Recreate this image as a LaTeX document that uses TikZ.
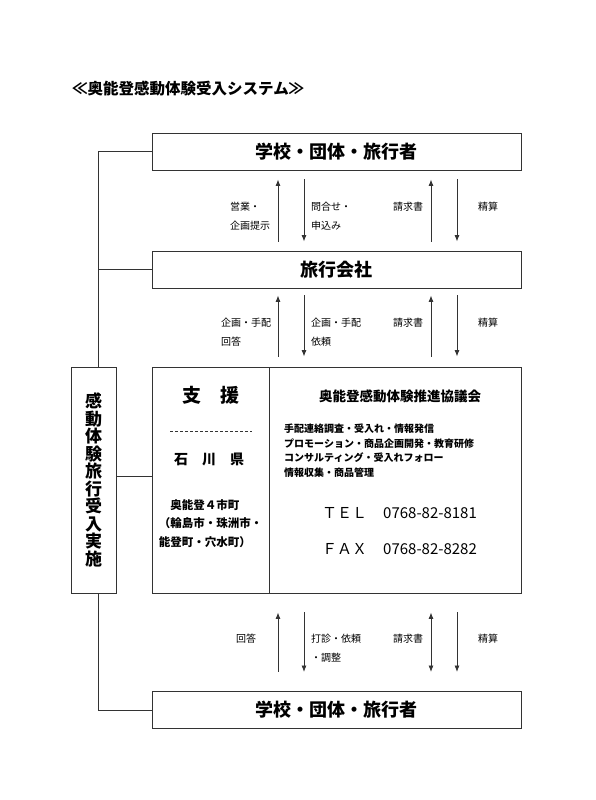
\documentclass[tikz,border=0pt]{standalone}
\usepackage{fontspec}
\setmainfont{Noto Sans CJK JP}
\usetikzlibrary{arrows.meta}
\colorlet{rule}{black!80}
\tikzset{
  band/.style     ={draw=rule, line width=0.9pt, inner sep=0pt,
                    minimum width=369pt, minimum height=37pt,
                    font=\fontsize{18}{20}\selectfont\bfseries},
  panel/.style    ={draw=rule, line width=0.9pt, inner sep=0pt,
                    minimum height=226pt},
  wire/.style     ={-, rule, line width=0.9pt},
  flowup/.style   ={{Latex[length=6.5pt,width=5pt]}-, rule, line width=0.8pt},
  flowdown/.style ={-{Latex[length=6.5pt,width=5pt]}, rule, line width=0.8pt},
  flowboth/.style ={{Latex[length=6.5pt,width=5pt]}-{Latex[length=6.5pt,width=5pt]},
                    rule, line width=0.8pt},
  gapA/.style     ={shorten <=9pt, shorten >=9pt},
  gapB/.style     ={shorten <=7pt, shorten >=10pt},
  gapC/.style     ={shorten <=19pt, shorten >=19pt},
  lab/.style      ={font=\fontsize{10}{19}\selectfont, anchor=west,
                    align=left, inner sep=0pt},
  duty/.style     ={font=\fontsize{10}{14.5}\selectfont\bfseries, anchor=north west,
                    align=left, inner sep=0pt},
  phone/.style    ={font=\fontsize{15}{17}\selectfont, anchor=west, inner sep=0pt},
}

\begin{document}
\begin{tikzpicture}[x=1pt, y=-1pt]
\useasboundingbox (0,0) rectangle (595,800);

% --- title ---
\node[font=\fontsize{15.5}{17}\selectfont\bfseries, anchor=west, inner sep=0pt]
  (title) at (72,89) {≪奥能登感動体験受入システム≫};

% --- column guides ---
\coordinate (spine) at (98,0);
\coordinate (c1) at (278,0);
\coordinate (c2) at (304,0);
\coordinate (c3) at (431,0);
\coordinate (c4) at (457,0);
\coordinate (link) at (0,476);

% --- boxes ---
\node[band] (school1) at (336.5,151.5) {学校・団体・旅行者};
\node[band] (agency)  at (336.5,269.5) {旅行会社};
\node[band] (school2) at (336.5,710)   {学校・団体・旅行者};

\node[panel, minimum width=117pt] (support) at (210.5,480) {};
\node[panel, minimum width=252pt] (council) at (395,480)   {};

\node[panel, minimum width=45pt, align=center,
      font=\fontsize{17}{17.5}\selectfont\bfseries]
  (kando) at (93.5,480) {感\\動\\体\\験\\旅\\行\\受\\入\\実\\施};

% --- spine ---
\draw[wire] (school1.west) -| (spine |- kando.north);
\draw[wire] (agency.west) -- (spine |- agency.west);
\draw[wire] (spine |- kando.south) |- (school2.west);
\draw[wire] (kando.east |- link) -- (support.west |- link);

% --- flows: school / agency ---
\draw[flowup,   gapA] (school1.south -| c1) -- (agency.north -| c1);
\draw[flowdown, gapA] (school1.south -| c2) -- (agency.north -| c2);
\draw[flowup,   gapA] (school1.south -| c3) -- (agency.north -| c3);
\draw[flowdown, gapA] (school1.south -| c4) -- (agency.north -| c4);

\node[lab] (l11) at (230,216.5) {営業・\\企画提示};
\node[lab] (l12) at (311,216.5) {問合せ・\\申込み};
\node[lab] (l13) at (393,207)   {請求書};
\node[lab] (l14) at (478,207)   {精算};

% --- flows: agency / council ---
\draw[flowup,   gapB] (agency.south -| c1) -- (council.north -| c1);
\draw[flowdown, gapB] (agency.south -| c2) -- (council.north -| c2);
\draw[flowup,   gapB] (agency.south -| c3) -- (council.north -| c3);
\draw[flowdown, gapB] (agency.south -| c4) -- (council.north -| c4);

\node[lab] (l21) at (221,332.5) {企画・手配\\回答};
\node[lab] (l22) at (311,332.5) {企画・手配\\依頼};
\node[lab] (l23) at (393,323)   {請求書};
\node[lab] (l24) at (478,323)   {精算};

% --- flows: council / school ---
\draw[flowup,   gapC] (council.south -| c1) -- (school2.north -| c1);
\draw[flowdown, gapC] (council.south -| c2) -- (school2.north -| c2);
\draw[flowboth, gapC] (council.south -| c3) -- (school2.north -| c3);
\draw[flowdown, gapC] (council.south -| c4) -- (school2.north -| c4);

\node[lab] (l31) at (236,639)   {回答};
\node[lab] (l32) at (311,648.5) {打診・依頼\\・調整};
\node[lab] (l33) at (393,639)   {請求書};
\node[lab] (l34) at (478,639)   {精算};

% --- support column ---
\node[font=\fontsize{19}{21}\selectfont\bfseries, inner sep=0pt]
  (aid) at (211,395) {支　援};
\draw[rule, line width=0.6pt, dash pattern=on 3pt off 2pt] (170,431) -- (252,431);
\node[font=\fontsize{14}{16}\selectfont\bfseries, inner sep=0pt]
  (pref) at (209,459) {石　川　県};
\node[font=\fontsize{11.5}{18.5}\selectfont\bfseries, align=left, inner sep=0pt]
  (towns) at (210.5,523.5) {　奥能登４市町\\（輪島市・珠洲市・\\能登町・穴水町）};

% --- council column ---
\node[font=\fontsize{13.5}{15}\selectfont\bfseries, inner sep=0pt]
  (board) at (400,396) {奥能登感動体験推進協議会};
\node[duty] (tasks) at (284,424)
  {手配連絡調査・受入れ・情報発信\\
   プロモーション・商品企画開発・教育研修\\
   コンサルティング・受入れフォロー\\
   情報収集・商品管理};

\node[phone] (tel)    at (322,513) {ＴＥＬ};
\node[phone] (telno)  at (383,513) {0768-82-8181};
\node[phone] (fax)    at (322,549) {ＦＡＸ};
\node[phone] (faxno)  at (383,549) {0768-82-8282};

\end{tikzpicture}
\end{document}
